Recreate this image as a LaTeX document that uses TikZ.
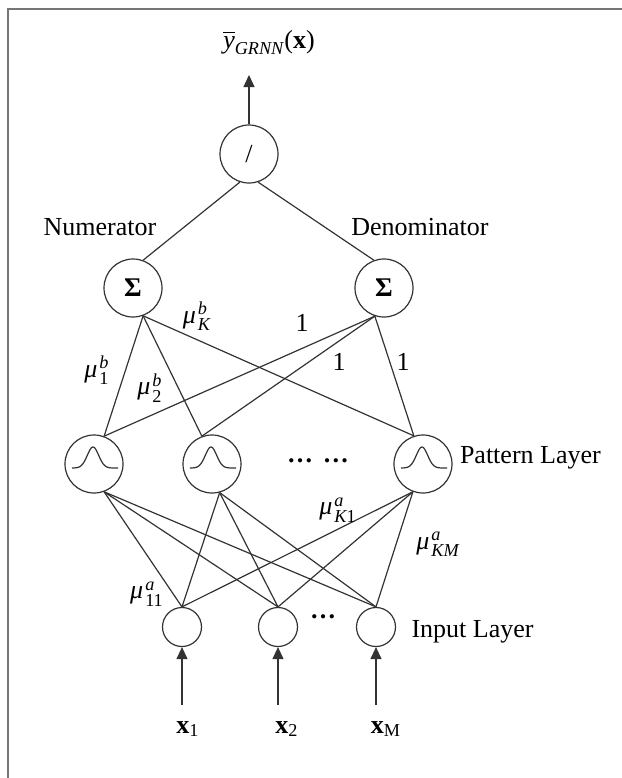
\documentclass[tikz,border=0pt]{standalone}
\usepackage{amsmath}
\usepackage{fontspec}
\setmainfont{Liberation Serif}
\usetikzlibrary{arrows.meta, positioning}
\definecolor{grnline}{HTML}{333333}
\definecolor{grnframe}{HTML}{767676}
\tikzset{
  neuron/.style={circle, draw=grnline, line width=0.6pt, inner sep=0pt, minimum size=29pt},
  inneuron/.style={neuron, minimum size=19.5pt},
  link/.style={draw=grnline, line width=0.6pt},
  inarr/.style={-{Triangle[length=6pt, width=5.5pt]}, line width=0.6pt, grnline},
  lbl/.style={font=\fontsize{13}{15}\selectfont, inner sep=0pt, text=black},
  bump/.style={line width=0.6pt, grnline},
}
\newcommand{\wmu}[2]{$\text{\itshape μ}\mkern1.5mu^{\text{\itshape #1}}_{\text{#2}}$}

\begin{document}
\begin{tikzpicture}[x=0.5pt, y=-0.5pt]
    \useasboundingbox (0,0) rectangle (622,778);
    \draw[grnframe, line width=1pt] (8,778) -- (8,9) -- (622,9);

    % output and summation units
    \node[neuron, font=\fontsize{13}{15}\selectfont] (div) at (249,154) {/};
    \node[neuron, font=\bfseries\fontsize{13.5}{15}\selectfont] (sumL) at (133,288) {Σ};
    \node[neuron, font=\bfseries\fontsize{13.5}{15}\selectfont] (sumR) at (384,288) {Σ};
    \node[lbl] (numlbl) at (100,227) {Numerator};
    \node[lbl] (denlbl) at (420,227) {Denominator};
    \node[lbl, anchor=base] (outlbl) at (269,48)
      {$\overline{\text{\itshape y}}_{\text{\itshape GRNN}}$(\textbf{x})};
    \coordinate (outtip) at (249,75);

    % pattern layer
    \node[neuron] (pat1) at (94,464) {};
    \node[neuron] (pat2) at (212,464) {};
    \node[neuron] (pat3) at (423,464) {};
    \foreach \p in {pat1, pat2, pat3}
      \draw[bump, shift={(\p.center)}] plot[domain=-22:24, samples=50, smooth]
        (\x, {4 - 21*exp(-((\x+1)/8)*((\x+1)/8))});
    \node[lbl] (patdots) at (318,461) {\textbf{\ldots}\hspace{5pt}\textbf{\ldots}};
    \node[lbl, right=3.5pt of pat3, yshift=3pt] (patlbl) {Pattern Layer};

    % input layer
    \node[inneuron] (inp1) at (182,627) {};
    \node[inneuron] (inp2) at (278,627) {};
    \node[inneuron] (inp3) at (376,627) {};
    \node[lbl] (indots) at (323,617) {\textbf{\ldots}};
    \node[lbl, right=7.5pt of inp3, yshift=-2.5pt] (inlbl) {Input Layer};
    \foreach \i/\xs/\xl/\sub in {1/182/188/1, 2/278/287/2, 3/376/386/M} {
      \coordinate (src\i) at (\xs,705);
      \node[lbl, anchor=base] (xlbl\i) at (\xl,733) {\textbf{x}\textsubscript{\sub}};
      \draw[inarr] (src\i) -- (inp\i.south);
    }

    % connections
    \draw[inarr] (div.north) -- (outtip);
    \draw[link] (div.-108) -- (sumL.70);
    \draw[link] (div.-72) -- (sumR.110);
    \foreach \s/\a in {sumL/-70, sumR/-108}
      \foreach \p/\b in {pat1/70, pat2/110, pat3/108}
        \draw[link] (\s.\a) -- (\p.\b);
    \foreach \p/\b in {pat1/-70, pat2/-75, pat3/-110}
      \foreach \n in {inp1, inp2, inp3}
        \draw[link] (\p.\b) -- (\n.north);

    % weights
    \node[lbl] (wKb) at (197,316) {\wmu{b}{\itshape K}};
    \node[lbl] (w1b) at (97,370) {\wmu{b}{1}};
    \node[lbl] (w2b) at (150,388) {\wmu{b}{2}};
    \node[lbl] (oneA) at (302,323) {1};
    \node[lbl] (oneB) at (339,362) {1};
    \node[lbl] (oneC) at (403,362) {1};
    \node[lbl] (wK1a) at (338,510) {\wmu{a}{{\itshape K}1}};
    \node[lbl] (wKMa) at (438,544) {\wmu{a}{\itshape KM}};
    \node[lbl] (w11a) at (147,594) {\wmu{a}{11}};
\end{tikzpicture}
\end{document}
